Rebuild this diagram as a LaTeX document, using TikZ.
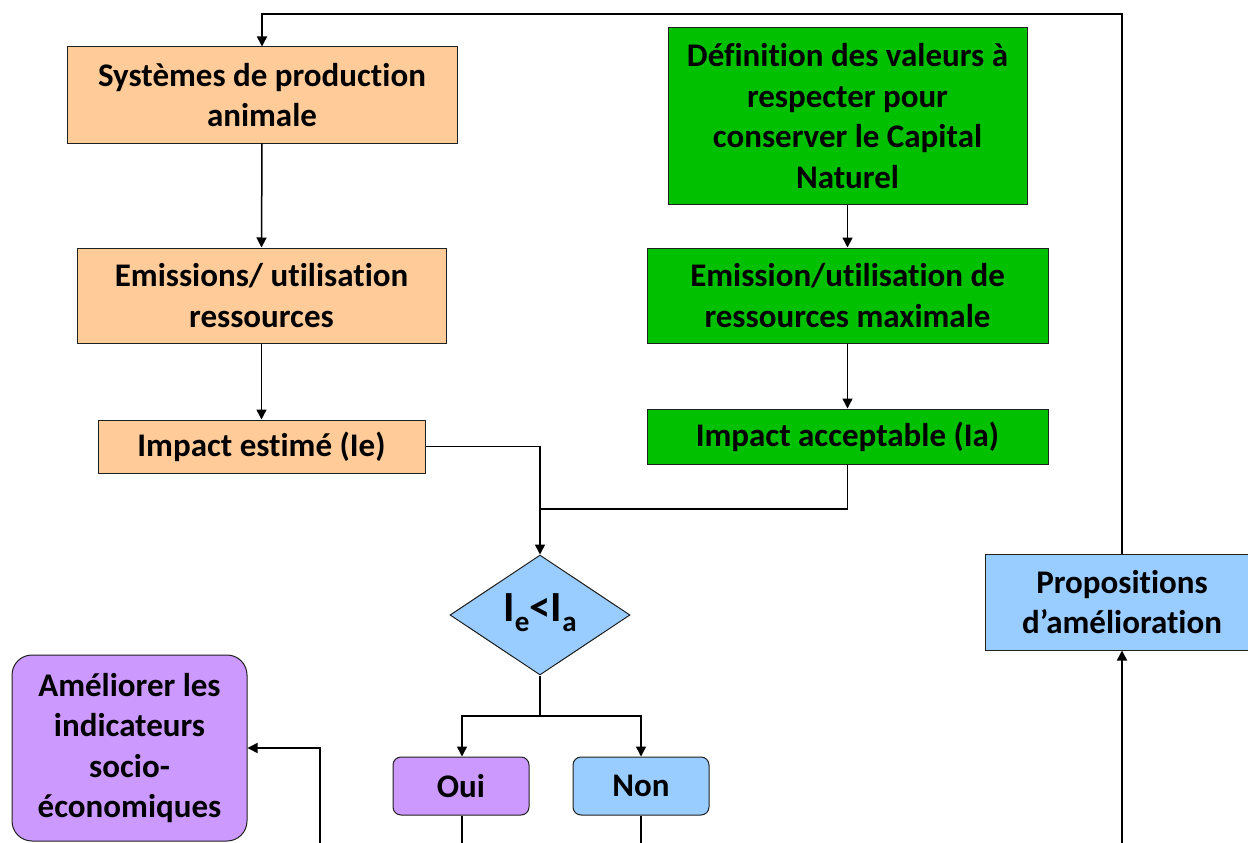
\documentclass[tikz,border=0pt]{standalone}
\usepackage{fontspec}
\setmainfont{Carlito}[Ligatures=NoCommon]
\usetikzlibrary{shapes.geometric,arrows.meta}
\definecolor{orangef}{HTML}{FFCC99}
\definecolor{greenf}{HTML}{00C000}
\definecolor{bluef}{HTML}{99CCFF}
\definecolor{purplef}{HTML}{CC99FF}
\definecolor{edge}{HTML}{202020}
\tikzset{
  box/.style={draw=edge, line width=1pt, inner sep=0pt, align=center,
    font=\fontsize{33}{40.5}\selectfont\bfseries},
  orangebox/.style={box, fill=orangef},
  greenbox/.style={box, fill=greenf},
  bluebox/.style={box, fill=bluef},
  purplebox/.style={box, fill=purplef},
  decision/.style={draw=edge, line width=1pt, fill=bluef, shape=diamond, inner sep=0pt,
    minimum width=180pt, minimum height=120pt, shape aspect=1.5},
  conn/.style={line width=1.5pt, black},
  arr/.style={conn, -{Triangle[length=10pt,width=10pt]}}
}
\begin{document}
\begin{tikzpicture}[x=1pt,y=-1pt]
\clip (0,0) rectangle (1248,843);
\fill[white] (0,0) rectangle (1248,843);
% left column
\node[orangebox, minimum width=390pt, minimum height=96pt] (b1) at (262,95) {Systèmes de production\\animale};
\node[orangebox, minimum width=369pt, minimum height=95pt] (b2) at (261.5,295.5) {Emissions/ utilisation\\ressources};
\node[orangebox, minimum width=327pt, minimum height=53pt] (b3) at (261.5,446.5) {Impact estimé (Ie)};
% right column
\node[greenbox, minimum width=359pt, minimum height=176pt] (g1) at (847.5,116) {Définition des valeurs à\\respecter pour\\conserver le Capital\\Naturel};
\node[greenbox, minimum width=401pt, minimum height=95pt] (g2) at (847.5,295.5) {Emission/utilisation de\\ressources maximale};
\node[greenbox, minimum width=401pt, minimum height=55pt] (g3) at (847.5,436.5) {Impact acceptable (Ia)};
% decision
\node[decision] (dia) at (540,615) {};
\node[font=\bfseries] at (540,613) {\fontsize{43}{43}\selectfont I\raisebox{-10pt}{\fontsize{29}{29}\selectfont e}<I\raisebox{-10pt}{\fontsize{29}{29}\selectfont a}};
% outcomes
\node[purplebox, rounded corners=8pt, minimum width=136pt, minimum height=58pt] (oui) at (461,786) {Oui};
\node[bluebox, rounded corners=8pt, minimum width=136pt, minimum height=58pt] (non) at (641,786) {Non};
\node[purplebox, rounded corners=20pt, minimum width=235pt, minimum height=186pt] (amel) at (129.5,748) {Améliorer les\\indicateurs\\socio-\\économiques};
\node[bluebox, minimum width=274pt, minimum height=96pt] (prop) at (1122,602) {Propositions\\d’amélioration};
% coordinates
\coordinate (tl) at (262,14);
\coordinate (join) at (540,509);
\coordinate (split) at (540,716);
\coordinate (ouiend) at (462,843);
\coordinate (nonend) at (641,843);
\coordinate (amelsrc) at (320,843);
\coordinate (propsrc) at (1122,843);
% connectors
\draw[arr] (prop.north) |- (tl) -- (b1.north);
\draw[arr] (b1.south) -- (b2.north);
\draw[arr] (b2.south) -- (b3.north);
\draw[arr] (b3.east) -| (dia.north);
\draw[arr] (g1.south) -- (g2.north);
\draw[arr] (g2.south) -- (g3.north);
\draw[conn] (g3.south) |- (join);
\draw[conn] (dia.south) -- (split);
\draw[arr] (split) -| (ouiend |- oui.north);
\draw[arr] (split) -| (non.north);
\draw[conn] (ouiend |- oui.south) -- (ouiend);
\draw[conn] (non.south) -- (nonend);
\draw[arr] (amelsrc) |- (amel.east);
\draw[arr] (propsrc) -- (prop.south);
\end{tikzpicture}
\end{document}
